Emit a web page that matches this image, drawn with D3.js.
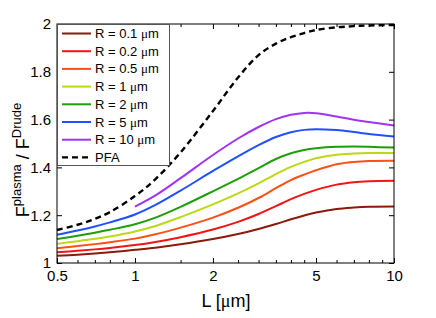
<!DOCTYPE html>
<html>
<head>
<meta charset="utf-8">
<script src="https://cdn.jsdelivr.net/npm/d3@7/dist/d3.min.js"></script>
<style>
	body { margin: 0; background: #fff; }
	svg { font-family: "Liberation Sans", Arial, sans-serif; }
	.axis path { display: none; }
	.axis line { stroke: #000; }
	.axis text { font-size: 15px; fill: #000; }
</style>
</head>
<body>
<svg id="chart" width="436" height="318"></svg>
<script>
// separation L in um
var lengths = [0.5, 0.6, 0.7, 0.8, 1, 1.2, 1.5, 2, 2.5, 3, 3.5, 4, 4.5, 5, 6, 7, 8, 10];

var r01 = [1.030, 1.035, 1.040, 1.045, 1.055, 1.064, 1.078, 1.100, 1.121, 1.142, 1.163, 1.183, 1.199, 1.211, 1.226, 1.232, 1.235, 1.236];
var r02 = [1.045, 1.051, 1.057, 1.063, 1.075, 1.088, 1.108, 1.140, 1.172, 1.205, 1.238, 1.267, 1.289, 1.306, 1.328, 1.338, 1.342, 1.344];
var r05 = [1.062, 1.071, 1.079, 1.087, 1.102, 1.120, 1.148, 1.190, 1.231, 1.272, 1.313, 1.347, 1.370, 1.388, 1.413, 1.423, 1.427, 1.428];
var r1  = [1.080, 1.091, 1.101, 1.111, 1.132, 1.155, 1.192, 1.245, 1.291, 1.333, 1.372, 1.402, 1.423, 1.438, 1.453, 1.458, 1.460, 1.460];
var r2  = [1.100, 1.114, 1.127, 1.139, 1.162, 1.190, 1.235, 1.300, 1.352, 1.397, 1.435, 1.459, 1.473, 1.480, 1.486, 1.487, 1.486, 1.483];
var r5  = [1.118, 1.136, 1.153, 1.170, 1.203, 1.243, 1.303, 1.385, 1.446, 1.493, 1.527, 1.547, 1.557, 1.560, 1.556, 1.548, 1.540, 1.529];
var r10 = [null, null, null, null, 1.236, 1.283, 1.355, 1.452, 1.521, 1.569, 1.602, 1.620, 1.628, 1.627, 1.613, 1.599, 1.590, 1.575];
var pfa = [1.138, 1.160, 1.185, 1.213, 1.280, 1.351, 1.463, 1.636, 1.776, 1.870, 1.918, 1.945, 1.962, 1.975, 1.986, 1.991, 1.994, 1.996];

var seriesNames = ['R = 0.1 ', 'R = 0.2 ', 'R = 0.5 ', 'R = 1 ', 'R = 2 ', 'R = 5 ', 'R = 10 ', 'PFA'];
var seriesData = [r01, r02, r05, r1, r2, r5, r10, pfa];
var seriesColors = ['#8b1a0a', '#f41414', '#ff5014', '#bcd914', '#1e9e0a', '#2050ff', '#a033f5', '#000'];

var xMajor = [0.5, 1, 2, 5, 10];
var xMinor = [0.6, 0.7, 0.8, 0.9, 1.5, 2.5, 3, 3.5, 4, 4.5, 6, 7, 8, 9];
var yTicks = [1, 1.2, 1.4, 1.6, 1.8, 2];

drawChart();

function drawChart() {
	var svg = d3.select('#chart'),
		mLeft = 57, mRight = 394, mTop = 24, mBottom = 263;

	var x = d3.scaleLog().domain([0.5, 10]).range([mLeft, mRight]);
	var y = d3.scaleLinear().domain([1, 2]).range([mBottom, mTop]);

	// curves
	var line = d3.line()
		.defined(function(d) { return d[1] != null; })
		.x(function(d) { return x(d[0]); })
		.y(function(d) { return y(d[1]); })
		.curve(d3.curveCatmullRom.alpha(0.5));

	seriesData.forEach(function(s, i) {
		svg.append('path')
			.datum(lengths.map(function(l, j) { return [l, s[j]]; }))
			.attr('d', line)
			.attr('fill', 'none')
			.attr('stroke', seriesColors[i])
			.attr('stroke-width', i == 7 ? 2.4 : 2)
			.attr('stroke-dasharray', i == 7 ? '6,4' : null);
	});

	// axes, ticks inside like matlab
	svg.append('g').attr('class', 'axis')
		.attr('transform', 'translate(0,' + mBottom + ')')
		.call(d3.axisBottom(x).tickValues(xMajor).tickSize(-5).tickPadding(7).tickFormat(d3.format('')));
	svg.append('g').attr('class', 'axis')
		.attr('transform', 'translate(0,' + mBottom + ')')
		.call(d3.axisBottom(x).tickValues(xMinor).tickSize(-3).tickFormat(''));
	svg.append('g').attr('class', 'axis')
		.attr('transform', 'translate(0,' + mTop + ')')
		.call(d3.axisTop(x).tickValues(xMajor).tickSize(-5).tickFormat(''));
	svg.append('g').attr('class', 'axis')
		.attr('transform', 'translate(0,' + mTop + ')')
		.call(d3.axisTop(x).tickValues(xMinor).tickSize(-3).tickFormat(''));
	svg.append('g').attr('class', 'axis')
		.attr('transform', 'translate(' + mLeft + ',0)')
		.call(d3.axisLeft(y).tickValues(yTicks).tickSize(-5).tickPadding(6).tickFormat(d3.format('')));
	svg.append('g').attr('class', 'axis')
		.attr('transform', 'translate(' + mRight + ',0)')
		.call(d3.axisRight(y).tickValues(yTicks).tickSize(-5).tickFormat(''));

	svg.append('rect')
		.attr('x', mLeft).attr('y', mTop)
		.attr('width', mRight - mLeft).attr('height', mBottom - mTop)
		.attr('fill', 'none').attr('stroke', '#000').attr('stroke-width', 1);

	// legend
	var lg = svg.append('g');
	lg.append('rect')
		.attr('x', mLeft + 0.5).attr('y', mTop + 0.5)
		.attr('width', 112).attr('height', 141)
		.attr('fill', '#fff').attr('stroke', '#555').attr('stroke-width', 1);

	seriesNames.forEach(function(name, i) {
		var yy = 33.5 + i * 17.7;
		lg.append('line')
			.attr('x1', 62).attr('x2', 91)
			.attr('y1', yy).attr('y2', yy)
			.attr('stroke', seriesColors[i])
			.attr('stroke-width', i == 7 ? 2.4 : 2)
			.attr('stroke-dasharray', i == 7 ? '6,4' : null);
		var t = lg.append('text')
			.attr('x', 95).attr('y', yy + 4.5)
			.attr('font-size', 13);
		t.append('tspan').text(name);
		if (i < 7) {
			t.append('tspan').attr('font-family', '"Liberation Serif", serif').text('\u03bc');
			t.append('tspan').text('m');
		}
	});

	// axis labels
	var xl = svg.append('text')
		.attr('x', 226).attr('y', 307)
		.attr('text-anchor', 'middle')
		.attr('font-size', 18);
	xl.append('tspan').text('L [');
	xl.append('tspan').attr('font-family', '"Liberation Serif", serif').text('\u03bc');
	xl.append('tspan').text('m]');

	var yl = svg.append('text')
		.attr('transform', 'translate(29,160) rotate(-90)')
		.attr('text-anchor', 'middle')
		.attr('font-size', 18);
	yl.append('tspan').text('F');
	yl.append('tspan').attr('font-size', 13).attr('dy', -8).text('plasma');
	yl.append('tspan').attr('dy', 8).text(' / F');
	yl.append('tspan').attr('font-size', 13).attr('dy', -8).text('Drude');
}
</script>
</body>
</html>
